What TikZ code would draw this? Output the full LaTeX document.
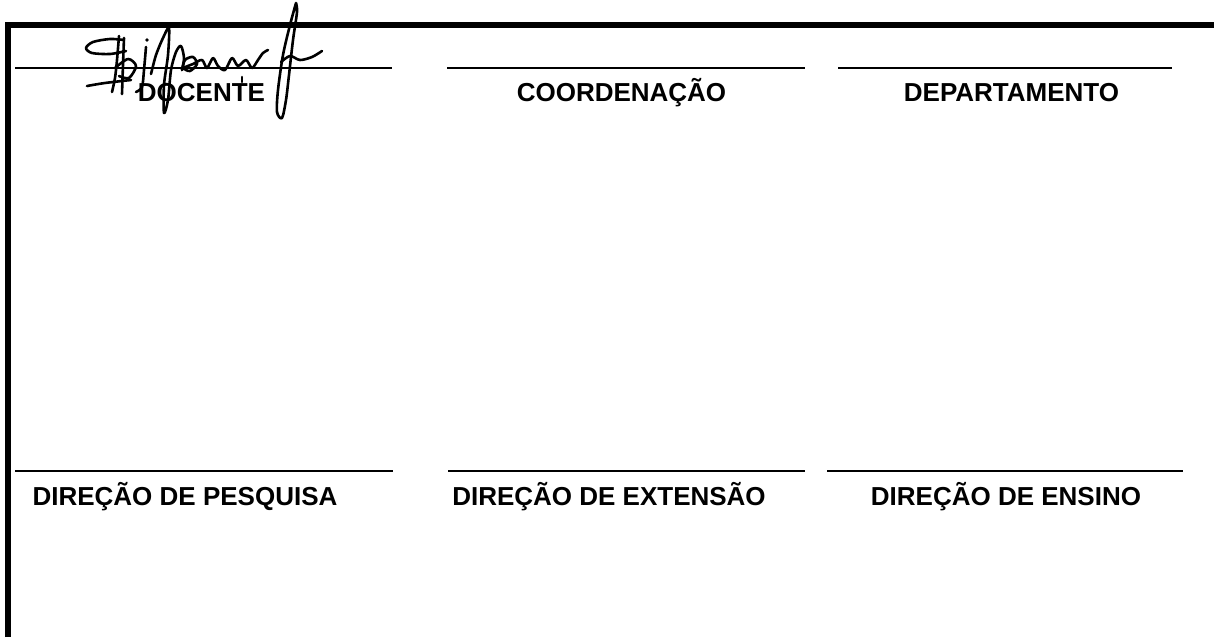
\documentclass[tikz,border=0pt]{standalone}
\usepackage{fontspec}
\setmainfont{Liberation Sans}
\usepackage{tikz}
\usetikzlibrary{positioning}

\begin{document}
\begin{tikzpicture}[
    x=0.5pt, y=-0.5pt,
    rolelabel/.style={font=\bfseries\fontsize{13}{15}\selectfont, anchor=base, inner sep=0pt},
    signline/.style={line width=1pt},
    pen/.style={line width=1.3pt, line cap=round, line join=round}
]
\useasboundingbox (0,0) rectangle (1214,637);

% Frame
\draw[line width=3pt, line join=miter] (8,637) -- (8,25) -- (1214,25);

% Signature lines, upper row
\draw[signline] (15,68) -- (392,68);
\draw[signline] (447,68) -- (805,68);
\draw[signline] (838,68) -- (1172,68);

% Signature lines, lower row
\draw[signline] (15,470.5) -- (393,470.5);
\draw[signline] (448,470.5) -- (805,470.5);
\draw[signline] (827,470.5) -- (1183,470.5);

% Upper labels
\node[rolelabel] (docente) at (201.5,101) {DOCENTE};
\node[rolelabel] (coord) at (621.5,101) {COORDENAÇÃO};
\node[rolelabel] (depto) at (1011.5,101) {DEPARTAMENTO};

% Lower labels
\node[rolelabel] (pesquisa) at (185,505) {DIREÇÃO DE PESQUISA};
\node[rolelabel] (extensao) at (609,505) {DIREÇÃO DE EXTENSÃO};
\node[rolelabel] (ensino) at (1006,505) {DIREÇÃO DE ENSINO};

% Signature
\draw[pen] plot[smooth] coordinates {(124,40) (110,39) (93,42) (86,48) (92,53) (110,54) (126,51)};
\draw[pen] plot[smooth] coordinates {(119,36) (117,60) (115,78) (112,92)};
\draw[pen] plot[smooth] coordinates {(124,38) (123,65) (122,94)};
\draw[pen] plot[smooth] coordinates {(115,68) (128,59) (136,66) (129,78) (119,76)};
\draw[pen] plot[smooth] coordinates {(87,86) (105,83) (131,80)};
\fill (147,40) circle (1.8);
\draw[pen] plot[smooth] coordinates {(146,47) (144,70) (142,87) (136,92)};
\draw[pen] plot[smooth] coordinates {(151,74) (156,55) (163,38) (169,28) (168,55) (164,85) (164,113) (168,100) (171,70) (176,52) (181,46) (184,58) (182,70)};
\draw[pen] plot[smooth] coordinates {(182,70) (185,60) (193,57) (197,64) (190,71) (184,68) (193,64) (202,60) (207,68) (213,58) (218,66) (225,70) (232,58) (238,66) (246,60) (252,68) (258,60) (263,53) (268,50)};
\draw[pen] plot[smooth] coordinates {(296,3) (290,25) (283,55) (278,90) (277,112) (282,118) (286,100) (289,75) (293,40) (297,12) (296,3)};
\draw[pen] plot[smooth] coordinates {(281,62) (290,56) (300,60) (312,57) (322,51)};
\draw[pen] (242,77) -- (242,82);
\end{tikzpicture}
\end{document}
